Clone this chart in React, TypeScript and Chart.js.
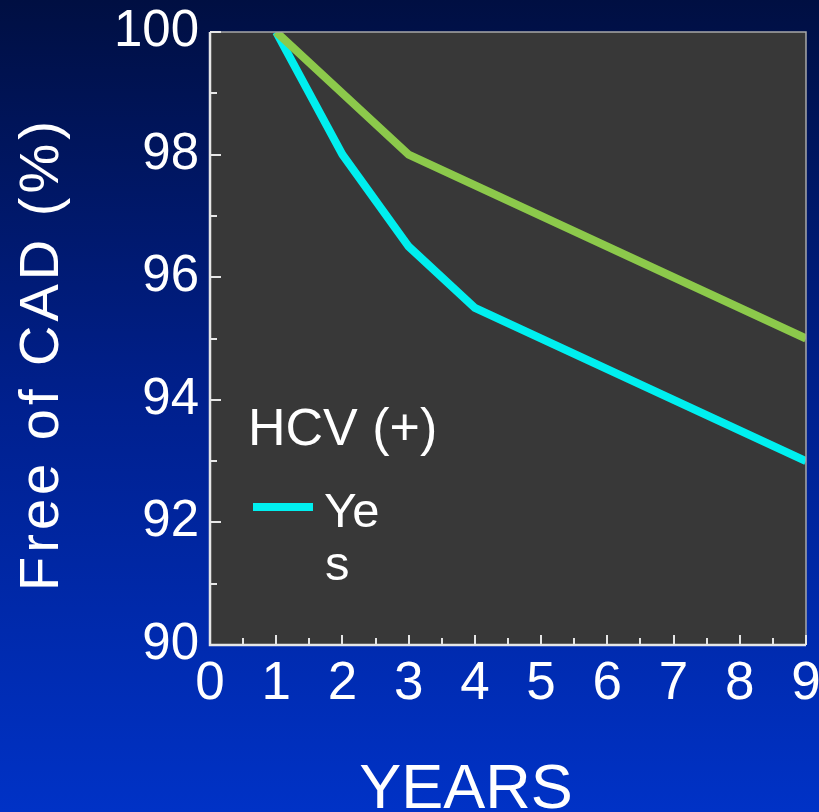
import React, { useEffect, useRef } from "react";
import { Chart, registerables } from "chart.js";

Chart.register(...registerables);

const hcvNoYears = [1, 3, 9];
const hcvNoValues = [100, 98, 95];
const hcvYesYears = [1, 2, 3, 4, 9];
const hcvYesValues = [100, 98, 96.5, 95.5, 93];
const xTickMin = 0;
const xTickMax = 9;
const yTickMin = 90;
const yTickMax = 100;
const xTitle = "YEARS";
const yTitle = "Free of CAD (%)";
const legendTitle = "HCV (+)";
const legendLabelLines = ["Ye", "s"];

const FONT = "'Liberation Sans', Arial, sans-serif";

const decorPlugin = {
  id: "decor",
  beforeDatasetsDraw(chart: any) {
    const { ctx, chartArea: a } = chart;
    ctx.save();
    ctx.fillStyle = "#383838";
    ctx.fillRect(a.left, a.top, a.right - a.left, a.bottom - a.top);
    ctx.restore();
  },
  afterDraw(chart: any) {
    const { ctx, chartArea: a } = chart;
    const xs = chart.scales.x;
    const ys = chart.scales.y;
    ctx.save();
    // top / right frame
    ctx.strokeStyle = "#a8a8a8";
    ctx.lineWidth = 1.5;
    ctx.beginPath();
    ctx.moveTo(a.left, a.top);
    ctx.lineTo(a.right, a.top);
    ctx.lineTo(a.right, a.bottom);
    ctx.stroke();
    // inward tick marks
    ctx.strokeStyle = "#e6e6e6";
    ctx.lineWidth = 2;
    ctx.beginPath();
    for (let v = xTickMin; v <= xTickMax + 1e-9; v += 0.5) {
      const px = Math.round(xs.getPixelForValue(v));
      const len = Number.isInteger(v) ? 10 : 7;
      ctx.moveTo(px, a.bottom);
      ctx.lineTo(px, a.bottom - len);
    }
    for (let v = yTickMin; v <= yTickMax + 1e-9; v += 1) {
      const py = Math.round(ys.getPixelForValue(v));
      const len = v % 2 === 0 ? 11 : 7;
      ctx.moveTo(a.left, py);
      ctx.lineTo(a.left + len, py);
    }
    ctx.stroke();
    // axis lines
    ctx.strokeStyle = "#e6e6e6";
    ctx.lineWidth = 2.5;
    ctx.beginPath();
    ctx.moveTo(a.left, a.top);
    ctx.lineTo(a.left, a.bottom);
    ctx.lineTo(a.right, a.bottom);
    ctx.stroke();

    // axis titles
    ctx.fillStyle = "#ffffff";
    ctx.font = `63px ${FONT}`;
    ctx.textAlign = "center";
    ctx.textBaseline = "alphabetic";
    ctx.fillText(xTitle, 466, 808);

    ctx.save();
    ctx.translate(58, 354);
    ctx.rotate(-Math.PI / 2);
    ctx.font = `56px ${FONT}`;
    (ctx as any).letterSpacing = "4px";
    ctx.textAlign = "center";
    ctx.fillText(yTitle, 0, 0);
    ctx.restore();

    // legend
    ctx.fillStyle = "#ffffff";
    ctx.textAlign = "left";
    ctx.font = `52px ${FONT}`;
    ctx.fillText(legendTitle, 248, 445);
    const ds = chart.data.datasets[1];
    ctx.strokeStyle = ds.borderColor;
    ctx.lineWidth = 8;
    ctx.beginPath();
    ctx.moveTo(253, 507);
    ctx.lineTo(313, 507);
    ctx.stroke();
    ctx.font = `49px ${FONT}`;
    ctx.fillText(legendLabelLines[0], 324, 527);
    ctx.fillText(legendLabelLines[1], 325, 580);
    ctx.restore();
  },
};

export default function App() {
  const ref = useRef<HTMLCanvasElement | null>(null);

  useEffect(() => {
    document.body.style.margin = "0";
    const canvas = ref.current!;
    const chart = new Chart(canvas, {
      type: "line",
      data: {
        datasets: [
          {
            label: "No",
            data: hcvNoYears.map((x, i) => ({ x, y: hcvNoValues[i] })),
            borderColor: "#8cc94b",
            borderWidth: 8,
            pointRadius: 0,
            tension: 0,
            fill: false,
          },
          {
            label: "Yes",
            data: hcvYesYears.map((x, i) => ({ x, y: hcvYesValues[i] })),
            borderColor: "#00efef",
            borderWidth: 8,
            pointRadius: 0,
            tension: 0,
            fill: false,
          },
        ],
      },
      options: {
        responsive: false,
        animation: false,
        events: [],
        layout: { padding: { left: 0, right: 13, top: 32, bottom: 0 } },
        plugins: {
          legend: { display: false },
          tooltip: { enabled: false },
          title: { display: false },
        },
        scales: {
          x: {
            type: "linear",
            min: xTickMin,
            max: xTickMax,
            grid: { display: false },
            border: { display: false },
            ticks: {
              stepSize: 1,
              autoSkip: false,
              maxRotation: 0,
              color: "#ffffff",
              padding: 0,
              font: { family: FONT, size: 53 },
            },
            afterFit(scale: any) {
              scale.height = 167;
              scale.paddingLeft = 0;
              scale.paddingRight = 0;
            },
          },
          y: {
            type: "linear",
            min: yTickMin,
            max: yTickMax,
            grid: { display: false },
            border: { display: false },
            ticks: {
              stepSize: 2,
              autoSkip: false,
              color: "#ffffff",
              padding: 3,
              font: { family: FONT, size: 51 },
            },
            afterFit(scale: any) {
              scale.width = 210;
              scale.paddingTop = 0;
              scale.paddingBottom = 0;
            },
          },
        },
      },
      plugins: [decorPlugin],
    });
    return () => chart.destroy();
  }, []);

  return (
    <div
      style={{
        width: 819,
        height: 812,
        background: "linear-gradient(to bottom, #000f42 0%, #00208e 50%, #0032c6 100%)",
      }}
    >
      <canvas ref={ref} width={819} height={812} style={{ display: "block" }} />
    </div>
  );
}
